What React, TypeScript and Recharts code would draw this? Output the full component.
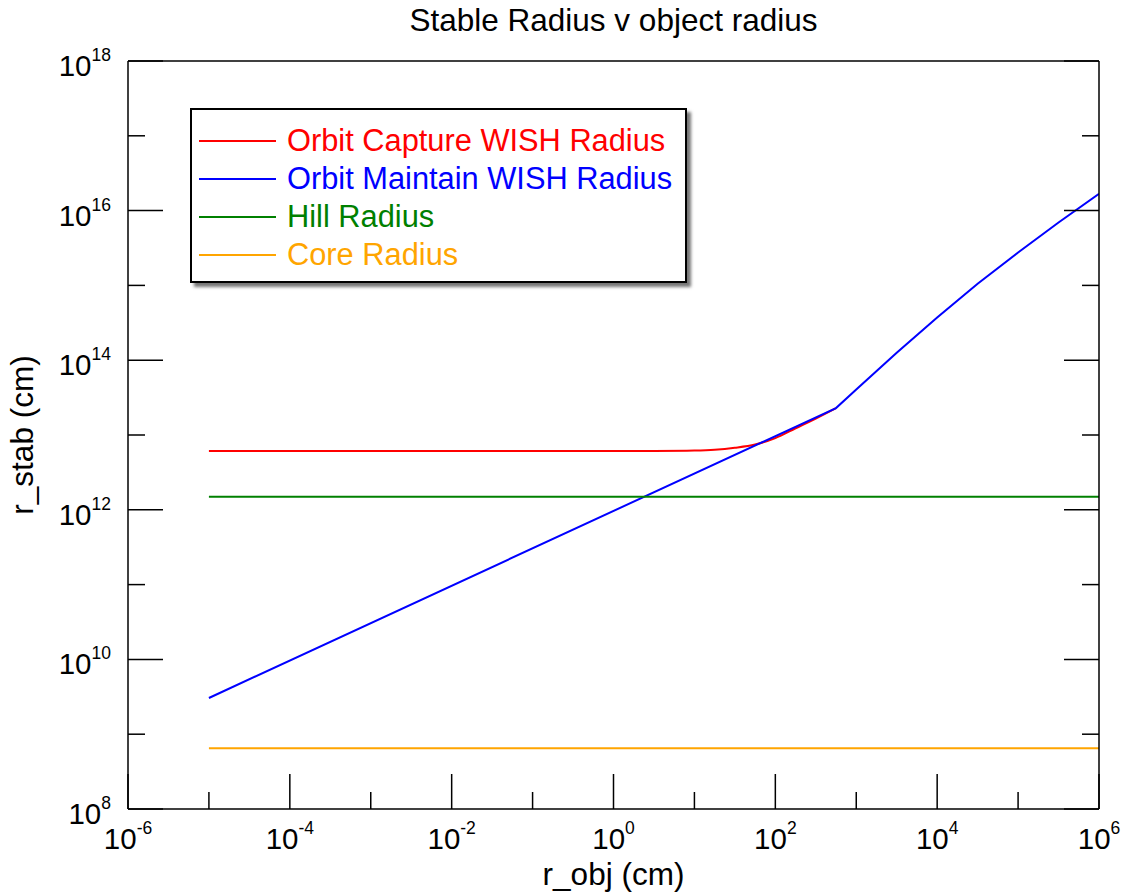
import { Line, LineChart, XAxis, YAxis } from "recharts";

// r_obj (cm) sample positions and r_stab (cm) values
const captureX = [1e-5, 1, 3.16, 10, 17.8, 31.6, 56.2, 100, 178, 316, 562];
const captureY = [6.1e12, 6.1e12, 6.12e12, 6.2e12, 6.35e12, 6.75e12, 7.45e12, 9.1e12, 1.23e13, 1.66e13, 2.29e13];

const maintainX = [1e-5, 562, 1e3, 3162, 1e4, 31623, 1e5, 316228, 1e6];
const maintainY = [3.05e9, 2.29e13, 4.07e13, 1.26e14, 3.72e14, 1.05e15, 2.75e15, 6.92e15, 1.68e16];

const hillX = [1e-5, 1e6];
const hillY = [1.5e12, 1.5e12];

const coreX = [1e-5, 1e6];
const coreY = [6.5e8, 6.5e8];

const xTicks = [1e-6, 1e-5, 1e-4, 1e-3, 1e-2, 1e-1, 1, 1e1, 1e2, 1e3, 1e4, 1e5, 1e6];
const yTicks = [1e8, 1e9, 1e10, 1e11, 1e12, 1e13, 1e14, 1e15, 1e16, 1e17, 1e18];

const series = [
  { name: "Orbit Capture WISH Radius", color: "#ff0000", xs: captureX, ys: captureY, curve: "monotone" },
  { name: "Orbit Maintain WISH Radius", color: "#0000ff", xs: maintainX, ys: maintainY, curve: "linear" },
  { name: "Hill Radius", color: "#008000", xs: hillX, ys: hillY, curve: "linear" },
  { name: "Core Radius", color: "#ffa500", xs: coreX, ys: coreY, curve: "linear" },
];

const FONT = "'Liberation Sans', Arial, Helvetica, sans-serif";
const MAJOR = 35;
const MINOR = 17;

const expOf = (v: number) => Math.round(Math.log10(v));

function Pow({ x, y, e, anchor }: { x: number; y: number; e: number; anchor: string }) {
  return (
    <text x={x} y={y} textAnchor={anchor} fontFamily={FONT} fontSize={29.5} fill="#000">
      10
      <tspan dy={-15} fontSize={17.5}>
        {e}
      </tspan>
    </text>
  );
}

function BottomTick(props: any) {
  const { x, y, payload } = props;
  const e = expOf(payload.value);
  const major = e % 2 === 0;
  return (
    <g>
      <line x1={x} x2={x} y1={y} y2={y - (major ? MAJOR : MINOR)} stroke="#000" strokeWidth={1.5} />
      {major && <Pow x={x} y={y + 40} e={e} anchor="middle" />}
    </g>
  );
}

function TopTick(props: any) {
  const { x, y, payload } = props;
  const major = expOf(payload.value) % 2 === 0;
  return <line x1={x} x2={x} y1={y} y2={y + (major ? MAJOR : MINOR)} stroke="#000" strokeWidth={1.5} />;
}

function LeftTick(props: any) {
  const { x, y, payload } = props;
  const e = expOf(payload.value);
  const major = e % 2 === 0;
  return (
    <g>
      <line x1={x} x2={x + (major ? MAJOR : MINOR)} y1={y} y2={y} stroke="#000" strokeWidth={1.5} />
      {major && <Pow x={x - 17} y={y + 15} e={e} anchor="end" />}
    </g>
  );
}

function RightTick(props: any) {
  const { x, y, payload } = props;
  const major = expOf(payload.value) % 2 === 0;
  return <line x1={x} x2={x - (major ? MAJOR : MINOR)} y1={y} y2={y} stroke="#000" strokeWidth={1.5} />;
}

function Legend() {
  return (
    <div
      style={{
        position: "absolute",
        left: 190,
        top: 108,
        width: 497,
        height: 175,
        border: "2px solid #000",
        background: "#fff",
        boxShadow: "4px 4px 3px #777",
        fontFamily: FONT,
        fontSize: 30.8,
        paddingTop: 12,
        boxSizing: "border-box",
      }}
    >
      {series.map((s) => (
        <div key={s.name} style={{ display: "flex", alignItems: "center", height: 38 }}>
          <div style={{ marginLeft: 7, width: 77, height: 2, background: s.color }} />
          <span style={{ marginLeft: 11, color: s.color, lineHeight: "30px" }}>{s.name}</span>
        </div>
      ))}
    </div>
  );
}

export default function App() {
  return (
    <div style={{ position: "absolute", left: 0, top: 0, width: 1127, height: 892, background: "#fff" }}>
      <LineChart width={1127} height={892} margin={{ top: 51, right: 18, bottom: 23, left: 28 }}>
        <XAxis
          dataKey="x"
          type="number"
          scale="log"
          domain={[1e-6, 1e6]}
          allowDataOverflow
          ticks={xTicks}
          interval={0}
          height={60}
          tickSize={0}
          tickMargin={0}
          tickLine={false}
          axisLine={{ stroke: "#000", strokeWidth: 1.5 }}
          tick={(p: any) => <BottomTick {...p} />}
          label={{
            content: (p: any) => (
              <text
                x={p.viewBox.x + p.viewBox.width / 2}
                y={p.viewBox.y + 76}
                textAnchor="middle"
                fontFamily={FONT}
                fontSize={31.5}
              >
                r_obj (cm)
              </text>
            ),
          }}
        />
        <XAxis
          xAxisId="top"
          orientation="top"
          type="number"
          scale="log"
          domain={[1e-6, 1e6]}
          allowDataOverflow
          ticks={xTicks}
          interval={0}
          height={10}
          tickSize={0}
          tickMargin={0}
          tickLine={false}
          axisLine={{ stroke: "#000", strokeWidth: 1.5 }}
          tick={(p: any) => <TopTick {...p} />}
          label={{
            content: (p: any) => (
              <text
                x={p.viewBox.x + p.viewBox.width / 2}
                y={p.viewBox.y - 20}
                textAnchor="middle"
                fontFamily={FONT}
                fontSize={31.5}
              >
                Stable Radius v object radius
              </text>
            ),
          }}
        />
        <YAxis
          type="number"
          scale="log"
          domain={[1e8, 1e18]}
          allowDataOverflow
          ticks={yTicks}
          interval={0}
          width={100}
          tickSize={0}
          tickMargin={0}
          tickLine={false}
          axisLine={{ stroke: "#000", strokeWidth: 1.5 }}
          tick={(p: any) => <LeftTick {...p} />}
          label={{
            content: (p: any) => {
              const cx = p.viewBox.x + 5;
              const cy = p.viewBox.y + p.viewBox.height / 2;
              return (
                <text
                  x={cx}
                  y={cy}
                  transform={`rotate(-90, ${cx}, ${cy})`}
                  textAnchor="middle"
                  fontFamily={FONT}
                  fontSize={31.5}
                >
                  r_stab (cm)
                </text>
              );
            },
          }}
        />
        <YAxis
          yAxisId="right"
          orientation="right"
          type="number"
          scale="log"
          domain={[1e8, 1e18]}
          allowDataOverflow
          ticks={yTicks}
          interval={0}
          width={10}
          tickSize={0}
          tickMargin={0}
          tickLine={false}
          axisLine={{ stroke: "#000", strokeWidth: 1.5 }}
          tick={(p: any) => <RightTick {...p} />}
        />
        {series.map((s) => (
          <Line
            key={s.name}
            data={s.xs.map((x, i) => ({ x, y: s.ys[i] }))}
            dataKey="y"
            name={s.name}
            type={s.curve as any}
            stroke={s.color}
            strokeWidth={2}
            dot={false}
            activeDot={false}
            isAnimationActive={false}
          />
        ))}
      </LineChart>
      <Legend />
    </div>
  );
}
